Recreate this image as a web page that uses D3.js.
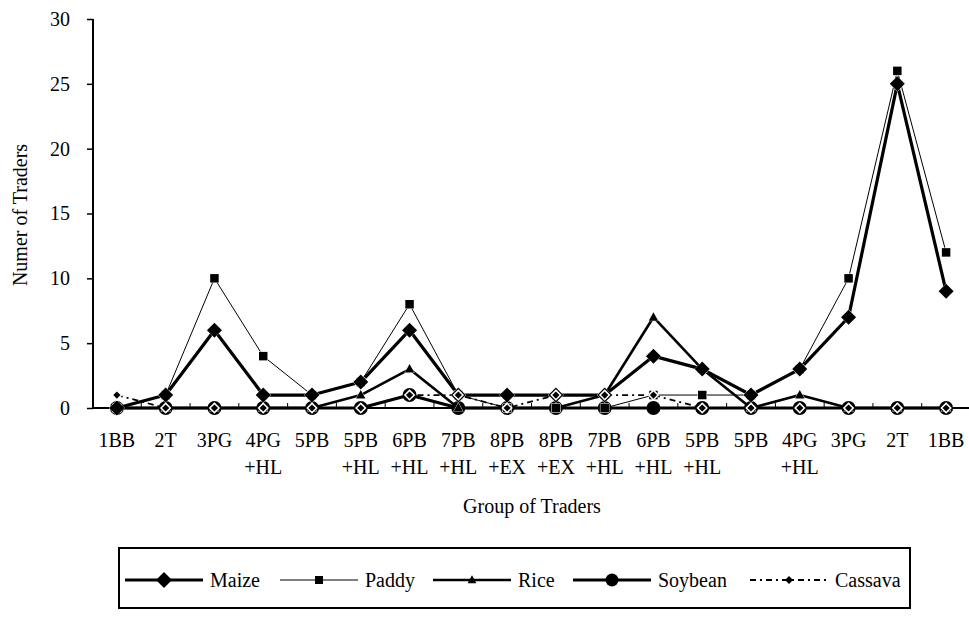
<!DOCTYPE html>
<html><head><meta charset="utf-8">
<script src="https://cdn.jsdelivr.net/npm/d3@7"></script>
<style>body{margin:0;background:#fff}svg{display:block}text{font-family:"Liberation Serif","Times New Roman",Tinos,serif;fill:#000}</style>
</head><body>
<svg id="c" width="969" height="618" style="font-family:'Liberation Serif',serif"></svg>
<script>
const categories = [["1BB"],["2T"],["3PG"],["4PG","+HL"],["5PB"],["5PB","+HL"],["6PB","+HL"],["7PB","+HL"],["8PB","+EX"],["8PB","+EX"],["7PB","+HL"],["6PB","+HL"],["5PB","+HL"],["5PB"],["4PG","+HL"],["3PG"],["2T"],["1BB"]];
const maize   = [0,1,6,1,1,2,6,1,1,1,1,4,3,1,3,7,25,9];
const paddy   = [0,1,10,4,1,2,8,1,0,0,0,1,1,1,3,10,26,12];
const rice    = [0,0,0,0,0,1,3,0,0,0,1,7,3,0,1,0,0,0];
const soybean = [0,0,0,0,0,0,1,0,0,0,0,0,0,0,0,0,0,0];
const cassava = [1,0,0,0,0,0,1,1,0,1,1,1,0,0,0,0,0,0];
const yTicks  = [0,5,10,15,20,25,30];
const seriesNames = ["Maize","Paddy","Rice","Soybean","Cassava"];

const svg = d3.select("#c");
svg.append("rect").attr("width",969).attr("height",618).attr("fill","#fff");

const x = d3.scaleBand().domain(d3.range(categories.length)).range([92.5,970.5]).padding(0);
const cx = i => x(i) + x.bandwidth()/2;
const y = d3.scaleLinear().domain([0,30]).range([408,19]);

const mk = {
  diamond: (r)=>`M0,${-r}L${r},0L0,${r}L${-r},0Z`,
  square: (s)=>`M${-s/2},${-s/2}h${s}v${s}h${-s}Z`,
  triangle: (s)=>`M0,${-s*0.6}L${s*0.55},${s*0.4}L${-s*0.55},${s*0.4}Z`,
  circle: (r)=>`M${r},0A${r},${r} 0 1,1 ${-r},0A${r},${r} 0 1,1 ${r},0Z`
};

const styles = {
  Maize:   {data:maize,   w:3.2, dash:null, shape:mk.diamond(7.5), legShape:mk.diamond(8), stroke:"#fff", sw:0.8},
  Paddy:   {data:paddy,   w:1,   dash:null, shape:mk.square(8.5), legShape:mk.square(8), stroke:"#fff", sw:1},
  Rice:    {data:rice,    w:2.6, dash:null, shape:mk.triangle(8.5), legShape:mk.triangle(8), stroke:"#fff", sw:0.8},
  Soybean: {data:soybean, w:3.2, dash:null, shape:mk.circle(7), legShape:mk.circle(6.5), stroke:"none", sw:0},
  Cassava: {data:cassava, w:1.8, dash:"6,4,2,4", shape:mk.diamond(3.6), legShape:mk.diamond(4), stroke:"#fff", sw:3}
};

const gY = svg.append("g").attr("transform","translate(93,0)")
  .call(d3.axisLeft(y).tickValues(yTicks).tickSize(6).tickPadding(17).tickFormat(d3.format("d")));
gY.attr("font-family",null);
gY.select(".domain").attr("stroke","#000").attr("stroke-width",2).attr("d","M0,19V408");
gY.selectAll(".tick line").attr("stroke","#000").attr("stroke-width",1.5);
gY.selectAll(".tick text").attr("font-size",20).attr("fill","#000");

svg.append("line").attr("x1",92).attr("x2",969).attr("y1",408).attr("y2",408).attr("stroke","#000").attr("stroke-width",2);
const bounds = d3.range(1,categories.length).map(i=>x(i));
svg.selectAll(".xt").data(bounds).join("line").attr("x1",d=>d).attr("x2",d=>d).attr("y1",408).attr("y2",403).attr("stroke","#000").attr("stroke-width",1);

const xl = svg.selectAll(".xl").data(categories).join("text")
  .attr("text-anchor","middle").attr("font-size",20);
xl.each(function(d,i){
  const t = d3.select(this);
  d.forEach((s,k)=>t.append("tspan").attr("x",cx(i)).attr("y",447+k*27).text(s));
});

svg.append("text").attr("transform","translate(27,215) rotate(-90)").attr("text-anchor","middle").attr("font-size",20).text("Numer of Traders");
svg.append("text").attr("x",532).attr("y",513).attr("text-anchor","middle").attr("font-size",20).text("Group of Traders");

const line = d3.line().x((d,i)=>cx(i)).y(d=>y(d));
const order = ["Soybean","Rice","Paddy","Maize","Cassava"];
order.forEach(name=>{
  const s = styles[name];
  svg.append("path").datum(s.data).attr("d",line).attr("fill","none").attr("stroke","#000")
    .attr("stroke-width",s.w).attr("stroke-dasharray",s.dash).attr("stroke-linejoin","round");
});
order.forEach(name=>{
  const s = styles[name];
  svg.selectAll(null).data(s.data).join("path")
    .attr("transform",(d,i)=>`translate(${cx(i)},${y(d)})`)
    .attr("d",s.shape).attr("fill","#000").attr("stroke",s.stroke).attr("stroke-width",s.sw)
    .attr("paint-order","stroke");
});

svg.append("rect").attr("x",119).attr("y",548).attr("width",791).attr("height",60)
  .attr("fill","none").attr("stroke","#000").attr("stroke-width",2);
const legStart = [125,280,433,573,750];
seriesNames.forEach((name,k)=>{
  const s = styles[name];
  const x0 = legStart[k], x1 = x0+78, ly = 580;
  svg.append("line").attr("x1",x0).attr("x2",x1).attr("y1",ly).attr("y2",ly).attr("stroke","#000")
    .attr("stroke-width",s.w).attr("stroke-dasharray",s.dash);
  svg.append("path").attr("transform",`translate(${(x0+x1)/2},${ly})`).attr("d",s.legShape).attr("fill","#000");
  svg.append("text").attr("x",x1+7).attr("y",587).attr("font-size",20).text(name);
});
</script>
</body></html>
